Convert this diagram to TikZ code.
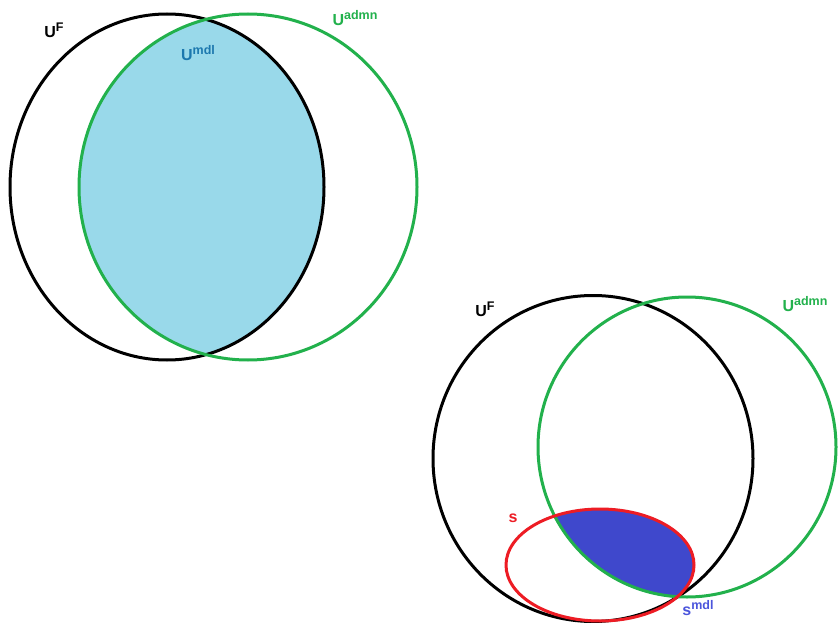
\documentclass[tikz,border=0pt]{standalone}
\usepackage{fontspec}
\setmainfont{Liberation Sans}
\definecolor{pgreen}{HTML}{22B14C}
\definecolor{pred}{HTML}{ED1C24}
\definecolor{plight}{HTML}{99D9EA}
\definecolor{pindigo}{HTML}{3F48CC}
\definecolor{umdl}{HTML}{1C78AE}
\definecolor{smdl}{HTML}{4B55DC}
\newcommand\lblsup[1]{\raisebox{6pt}{\fontsize{12.5}{12.5}\selectfont #1}}
\tikzset{
  setline/.style={line width=3pt},
  lbl/.style={font=\fontsize{16}{16}\selectfont\bfseries, inner sep=0pt}
}
\begin{document}
\begin{tikzpicture}[x=1pt,y=-1pt]
\useasboundingbox (0,0) rectangle (838,623);
\fill[white] (0,0) rectangle (838,623);
% top diagram
\begin{scope}
  \clip (167,187) ellipse [x radius=157, y radius=173];
  \fill[plight] (248,187) ellipse [x radius=169, y radius=173];
\end{scope}
\draw[setline, black] (167,187) ellipse [x radius=157, y radius=173];
\draw[setline, pgreen] (248,187) ellipse [x radius=169, y radius=173];
\node[lbl, black] (uf1) at (54,30) {U\lblsup{F}};
\node[lbl, pgreen] (ua1) at (355,18) {U\lblsup{admn}};
\node[lbl, umdl] (um) at (198,53) {U\lblsup{mdl}};
% bottom diagram
\begin{scope}
  \clip (600,565) ellipse [x radius=94, y radius=56];
  \fill[pindigo] (687,447) ellipse [x radius=150, y radius=151];
\end{scope}
\draw[setline, black] (593,458.5) ellipse [x radius=160, y radius=163];
\draw[setline, pgreen] (687,447) ellipse [x radius=149, y radius=150];
\draw[setline, pred] (600,565) ellipse [x radius=94, y radius=56];
\node[lbl, black] (uf2) at (485,309) {U\lblsup{F}};
\node[lbl, pgreen] (ua2) at (805,304) {U\lblsup{admn}};
\node[lbl, pred] (s) at (513,518) {s};
\node[lbl, smdl] (sm) at (698,608) {s\lblsup{mdl}};
\end{tikzpicture}
\end{document}
